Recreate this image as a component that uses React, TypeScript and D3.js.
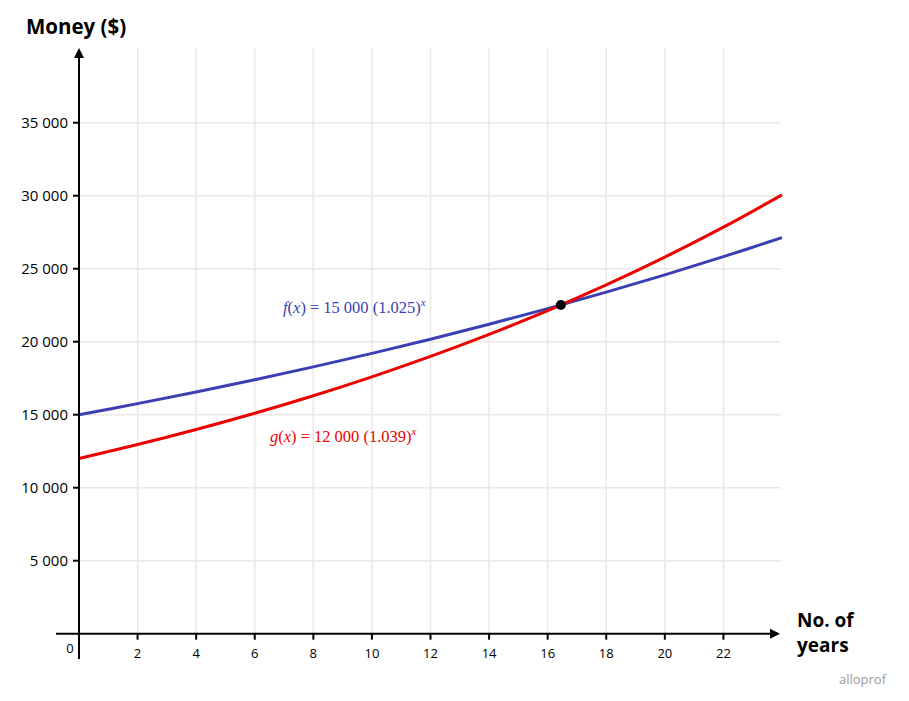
import React from 'react';
import * as d3 from 'd3';

// values (every 2 years)
const years = [0, 2, 4, 6, 8, 10, 12, 14, 16, 18, 20, 22, 24];
const fValues = [15000, 15759, 16557, 17395, 18276, 19201, 20173, 21195, 22268, 23395, 24579, 25824, 27131];
const gValues = [12000, 12954, 13984, 15096, 16297, 17593, 18992, 20502, 22132, 23892, 25792, 27843, 30058];
const xTicks = [2, 4, 6, 8, 10, 12, 14, 16, 18, 20, 22];
const yTicks = [5000, 10000, 15000, 20000, 25000, 30000, 35000];
const meet = { x: 16.45, y: 22516 };

const W = 909;
const H = 701;
const BLUE = '#3b3fb3';
const RED = '#ec0000';
const GRID = '#ede8e2';
const FONT = '"Open Sans", Lato, sans-serif';
const MATH = '"Liberation Serif", "DejaVu Serif", serif';

const fmt = (v: number) => d3.format(',')(v).replace(/,/g, ' ');

function Equation({ x, y, fn, body, color }: { x: number; y: number; fn: string; body: string; color: string }) {
  return (
    <text x={x} y={y} fontFamily={MATH} fontSize={16.5} fill={color} style={{ whiteSpace: 'pre' }}>
      <tspan fontStyle="italic">{fn}</tspan>(<tspan fontStyle="italic">x</tspan>)
      <tspan dx={4}>=</tspan>
      <tspan dx={4}>{body}</tspan>
      <tspan fontStyle="italic" fontSize={11} dy={-7}>x</tspan>
    </text>
  );
}

export default function App() {
  const x = d3.scaleLinear().domain([0, 24]).range([79, 782]);
  const y = d3.scaleLinear().domain([0, 35000]).range([633.7, 122.7]);

  const line = d3.line<number>()
    .x((_, i) => x(years[i]))
    .y(d => y(d))
    .curve(d3.curveCatmullRom);

  const x0 = x(0);
  const y0 = y(0);

  return (
    <svg width={W} height={H} style={{ display: 'block', margin: -8 }}>
      <rect width={W} height={H} fill="#fff" />
      {/* grid */}
      {xTicks.map(t => (
        <line key={'gx' + t} x1={x(t)} x2={x(t)} y1={48} y2={y0} stroke={GRID} strokeWidth={1.5} />
      ))}
      {yTicks.map(t => (
        <line key={'gy' + t} x1={x0} x2={781} y1={y(t)} y2={y(t)} stroke={GRID} strokeWidth={1.5} />
      ))}

      {/* curves */}
      <path d={line(fValues) || ''} fill="none" stroke={BLUE} strokeWidth={3} />
      <path d={line(gValues) || ''} fill="none" stroke={RED} strokeWidth={3} />
      <circle cx={x(meet.x)} cy={y(meet.y)} r={5} fill="#000" />

      {/* axes */}
      <line x1={x0} x2={x0} y1={56} y2={659} stroke="#000" strokeWidth={2} />
      <path d={`M${x0},48 L${x0 - 5},58 L${x0 + 5},58 Z`} fill="#000" />
      <line x1={56} x2={772} y1={y0} y2={y0} stroke="#000" strokeWidth={2} />
      <path d={`M780,${y0} L770,${y0 - 5} L770,${y0 + 5} Z`} fill="#000" />

      {xTicks.map(t => (
        <g key={'tx' + t}>
          <line x1={x(t)} x2={x(t)} y1={y0} y2={y0 + 6} stroke="#000" strokeWidth={2} />
          <text x={x(t)} y={y0 + 24} textAnchor="middle" fontFamily={FONT} fontSize={13} fill="#000">{t}</text>
        </g>
      ))}
      {yTicks.map(t => (
        <g key={'ty' + t}>
          <line x1={x0 - 6} x2={x0} y1={y(t)} y2={y(t)} stroke="#000" strokeWidth={2} />
          <text x={x0 - 11} y={y(t) + 5} textAnchor="end" fontFamily={FONT} fontSize={15} fill="#000">{fmt(t)}</text>
        </g>
      ))}
      <text x={70} y={y0 + 19} textAnchor="middle" fontFamily={FONT} fontSize={13} fill="#000">0</text>

      {/* titles */}
      <text x={26} y={34} fontFamily={FONT} fontSize={20.5} fontWeight="bold" fill="#000">Money ($)</text>
      <text x={797} y={627} fontFamily={FONT} fontSize={19} fontWeight="bold" fill="#000">No. of</text>
      <text x={797} y={652} fontFamily={FONT} fontSize={19} fontWeight="bold" fill="#000">years</text>
      <text x={839} y={684} fontFamily={FONT} fontSize={13} fill="#9a9a9a">alloprof</text>

      {/* equation labels */}
      <Equation x={283} y={313} fn="f" body="15 000 (1.025)" color={BLUE} />
      <Equation x={270} y={442} fn="g" body="12 000 (1.039)" color={RED} />
    </svg>
  );
}
